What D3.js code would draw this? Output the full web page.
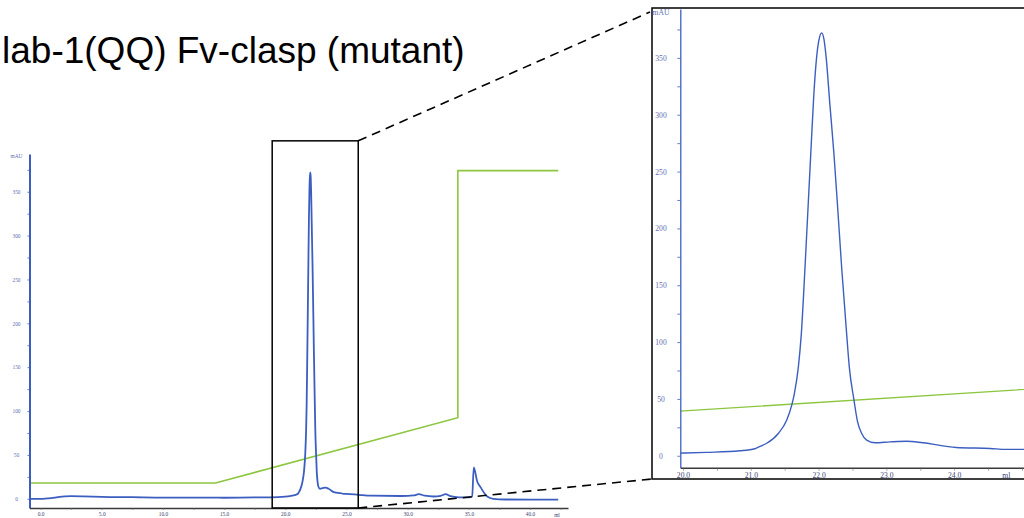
<!DOCTYPE html>
<html>
<head>
<meta charset="utf-8">
<script src="https://cdn.jsdelivr.net/npm/d3@7"></script>
<style>
  html, body { margin: 0; padding: 0; background: #fff; overflow: hidden; }
  svg { display: block; }
</style>
</head>
<body>
<svg id="chart" width="1024" height="518"></svg>
<script>
// UV 280 trace (ml, mAU)
const uvVolume = [-0.9, 0.0, 1.0, 2.0, 2.5, 3.5, 5.0, 7.5, 10.0, 12.5, 15.0, 17.5, 18.8, 20.0, 20.35, 20.84, 21.06,
  21.136, 21.235, 21.406, 21.529, 21.603, 21.642, 21.701, 21.745, 21.799, 21.85, 21.89, 21.93, 21.97, 22.006,
  22.046, 22.08, 22.109, 22.168, 22.227, 22.276, 22.341, 22.414, 22.453, 22.522, 22.571, 22.636, 22.709, 22.832,
  23.053, 23.3, 23.54, 24.03, 24.53, 24.77, 25.0, 26.0, 27.0, 29.5, 30.5, 30.9, 31.4, 32.1, 32.7, 33.1, 33.5, 34.2,
  35.0, 35.27, 35.4, 35.68, 35.95, 36.5, 37.0, 38.0, 40.0, 42.3];
const uvAbs = [0.0, 0.0, 1.0, 2.8, 3.0, 2.8, 2.2, 1.8, 1.3, 1.4, 1.2, 1.5, 1.5, 2.4, 3.0, 4.4, 6.2,
  8.2, 11, 19.6, 31.2, 44.3, 54.5, 77.8, 107, 165, 225, 272, 318, 350, 366,
  372, 366, 352, 308, 265, 223, 165, 107, 78, 49, 31, 19.6, 13.7, 11.4,
  12.2, 12.8, 11.4, 7.3, 6.4, 5.6, 5.6, 4.5, 3.5, 3.2, 3.8, 5.3, 3.5, 2.6, 3.4, 5.3, 3.0, 1.7,
  1.5, 2.6, 35.7, 19.7, 13.3, 2.6, 0.0, -0.8, -1.0, -1.0];

// gradient trace, drawn on the mAU scale
const gradVolume = [-0.9, 14.3, 34.1, 34.1, 42.3];
const gradLevel = [18, 18, 92.4, 374, 374];

// axes
const yTickValues = d3.range(0, 376, 25);
const mainXTicks = d3.range(0, 43, 2.5);
const zoomXTicks = d3.range(20, 25.01, 0.5);

// zoom box drawn on the overview (ml range, top in mAU)
const boxMl = [18.93, 25.96];
const boxTop = 408;

const title = "lab-1(QQ) Fv-clasp (mutant)";

const BLUE = "#3c5ec0", GREEN = "#8cc63f", LABEL = "#5d6fb4", XLABEL = "#3d4472";

const svg = d3.select("#chart");
const defs = svg.append("defs");

function drawPanel(id, p) {
  const x = d3.scaleLinear().domain(p.xDom).range(p.xRange);
  const y = d3.scaleLinear().domain([-10.5, 393]).range(p.yRange);
  const g = svg.append("g").attr("id", id);

  defs.append("clipPath").attr("id", "clip-" + id)
    .append("rect")
    .attr("x", p.xRange[0]).attr("y", p.yRange[1])
    .attr("width", p.xRange[1] - p.xRange[0]).attr("height", p.yRange[0] - p.yRange[1]);

  const plot = g.append("g").attr("clip-path", `url(#clip-${id})`);

  const grad = d3.zip(gradVolume, gradLevel);
  plot.append("path").datum(grad)
    .attr("fill", "none").attr("stroke", GREEN).attr("stroke-width", p.gw)
    .attr("d", d3.line().x(d => x(d[0])).y(d => y(d[1])));

  const uv = d3.zip(uvVolume, uvAbs);
  plot.append("path").datum(uv)
    .attr("fill", "none").attr("stroke", BLUE).attr("stroke-width", p.bw)
    .attr("stroke-linejoin", "round")
    .attr("d", d3.line().x(d => x(d[0])).y(d => y(d[1])).curve(d3.curveMonotoneX));

  // y axis
  const yAx = g.append("g").attr("transform", `translate(${p.xRange[0]},0)`)
    .call(d3.axisLeft(y).tickValues(yTickValues)
      .tickFormat(d => d % 50 ? "" : d).tickSize(p.tick).tickSizeOuter(0));
  yAx.select(".domain").attr("stroke", BLUE).attr("stroke-width", p.yw);
  yAx.selectAll(".tick line").attr("stroke", BLUE).attr("stroke-width", 0.8);
  yAx.selectAll(".tick text")
    .attr("x", -p.yLab).attr("text-anchor", "middle")
    .attr("fill", LABEL).attr("font-family", "'Liberation Serif', serif").attr("font-size", p.fs);
  g.append("text").attr("x", p.xRange[0] - p.yLab).attr("y", p.yRange[1] + p.mauDy)
    .attr("text-anchor", "middle").attr("fill", LABEL)
    .attr("font-family", "'Liberation Serif', serif").attr("font-size", p.fs).text("mAU");

  // x axis
  const xAx = g.append("g").attr("transform", `translate(0,${p.yRange[0]})`)
    .call(d3.axisBottom(x).tickValues(p.xTicks)
      .tickFormat(d => (Math.abs(d % p.labelStep) < 1e-6 && d <= p.lastLabel) ? d.toFixed(1) : "")
      .tickSize(p.tick).tickSizeOuter(0).tickPadding(p.xPad));
  xAx.select(".domain").attr("stroke", "#3a3a3a").attr("stroke-width", 1.5);
  xAx.selectAll(".tick line").attr("stroke", "#666").attr("stroke-width", 0.6);
  xAx.selectAll(".tick text")
    .attr("fill", XLABEL).attr("font-family", "'Liberation Serif', serif").attr("font-size", p.fs);
  g.append("text").attr("x", x(p.mlAt)).attr("y", p.yRange[0] + p.xPad + p.tick + p.fs * 0.75)
    .attr("text-anchor", "middle").attr("fill", XLABEL)
    .attr("font-family", "'Liberation Serif', serif").attr("font-size", p.fs).text("ml");

  return { x, y };
}

const main = drawPanel("main", {
  xDom: [-0.9, 43.1], xRange: [29.5, 568], yRange: [508, 154],
  xTicks: mainXTicks, labelStep: 5, lastLabel: 40, mlAt: 42.2,
  fs: 5.4, tick: 2, yLab: 13, xPad: 2.5, mauDy: 4, bw: 1.8, gw: 1.6, yw: 2
});

svg.append("rect")
  .attr("x", 652).attr("y", 8).attr("width", 380).attr("height", 471)
  .attr("fill", "#fff").attr("stroke", "#000").attr("stroke-width", 1.5);

drawPanel("zoom", {
  xDom: [19.96, 25.03], xRange: [680.3, 1024], yRange: [467.7, 9],
  xTicks: zoomXTicks, labelStep: 1, lastLabel: 24, mlAt: 24.77,
  fs: 7.6, tick: 3, yLab: 19.3, xPad: 1.5, mauDy: 6, bw: 1.4, gw: 1.3, yw: 1.3
});

// zoom box and connectors
const bx0 = main.x(boxMl[0]), bx1 = main.x(boxMl[1]);
const by0 = main.y(boxTop), by1 = main.y(-10.5);
svg.append("rect")
  .attr("x", bx0).attr("y", by0).attr("width", bx1 - bx0).attr("height", by1 - by0)
  .attr("fill", "none").attr("stroke", "#000").attr("stroke-width", 1.5);

svg.append("line").attr("x1", bx1).attr("y1", by0).attr("x2", 650).attr("y2", 12)
  .attr("stroke", "#000").attr("stroke-width", 1.6).attr("stroke-dasharray", "9,6");
svg.append("line").attr("x1", bx1).attr("y1", by1).attr("x2", 652).attr("y2", 479)
  .attr("stroke", "#000").attr("stroke-width", 1.6).attr("stroke-dasharray", "9,6");

svg.append("text").attr("x", 2).attr("y", 62.7)
  .attr("font-family", "'Liberation Sans', Arial, sans-serif").attr("font-size", 37)
  .attr("fill", "#000").text(title);
</script>
</body>
</html>
